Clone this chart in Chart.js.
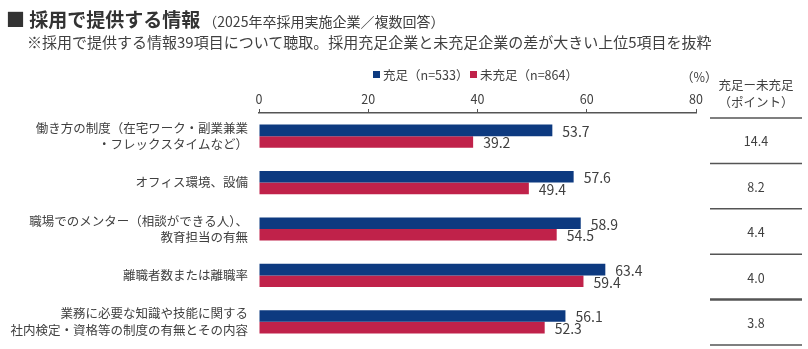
<!DOCTYPE html>
<html lang="ja">
<head>
<meta charset="utf-8">
<script src="https://cdn.jsdelivr.net/npm/chart.js@4.4.1/dist/chart.umd.min.js"></script>
<style>
  body { margin: 0; background: #fff; font-family: "Noto Sans CJK JP", "Noto Sans", sans-serif; color: #404040; }
  #wrap { position: relative; width: 808px; height: 349px; overflow: hidden; }
  #chart { position: absolute; left: 0; top: 0; }
  .abs { position: absolute; white-space: nowrap; line-height: 1; }
  .title { left: 6px; top: 9px; font-size: 19px; font-weight: bold; color: #333; }
  .title small { font-size: 14px; font-weight: normal; color: #404040; margin-left: 3px; }
  .sub { left: 27px; top: 34px; font-size: 15px; }
  .legend { top: 69px; font-size: 12.5px; }
  .legend i { display: inline-block; width: 7px; height: 7px; margin-right: 3px; vertical-align: 2px; }
  .unit { left: 681px; top: 71px; font-size: 12.5px; }
  .head { left: 710px; width: 92px; text-align: center; font-size: 12.5px; }
</style>
</head>
<body>
<div id="wrap">
  <canvas id="chart" width="808" height="349"></canvas>
  <div class="abs title">■ 採用で提供する情報<small>（2025年卒採用実施企業／複数回答）</small></div>
  <div class="abs sub">※採用で提供する情報39項目について聴取。採用充足企業と未充足企業の差が大きい上位5項目を抜粋</div>
  <div class="abs legend" style="left:373px"><i style="background:#0d3a80"></i>充足（n=533）</div>
  <div class="abs legend" style="left:470px"><i style="background:#c0224a"></i>未充足（n=864）</div>
  <div class="abs unit">（%）</div>
  <div class="abs head" style="top:79px">充足ー未充足</div>
  <div class="abs head" style="top:96px">（ポイント）</div>
</div>
<script>
const categories = [
    ['働き方の制度（在宅ワーク・副業兼業', '・フレックスタイムなど）'],
    'オフィス環境、設備',
    ['職場でのメンター（相談ができる人）、', '教育担当の有無'],
    '離職者数または離職率',
    ['業務に必要な知識や技能に関する', '社内検定・資格等の制度の有無とその内容']
];
const filled = [53.7, 57.6, 58.9, 63.4, 56.1];
const unfilled = [39.2, 49.4, 54.5, 59.4, 52.3];
const diffs = ['14.4', '8.2', '4.4', '4.0', '3.8'];
const xTicks = [0, 20, 40, 60, 80];

const textColor = '#404040';
const fontFamily = '"Noto Sans CJK JP", "Noto Sans", sans-serif';

// 棒の右に数値を描く
const valueLabels = {
    id: 'valueLabels',
    afterDatasetsDraw(chart) {
        const ctx = chart.ctx;
        ctx.save();
        ctx.font = '14px ' + fontFamily;
        ctx.fillStyle = textColor;
        ctx.textAlign = 'left';
        ctx.textBaseline = 'middle';
        chart.data.datasets.forEach((ds, di) => {
            chart.getDatasetMeta(di).data.forEach((bar, i) => {
                ctx.fillText(ds.data[i].toFixed(1), bar.x + 10, bar.y + 1);
            });
        });
        ctx.restore();
    }
};

// 右側の差の表
const diffTable = {
    id: 'diffTable',
    afterDraw(chart) {
        const ctx = chart.ctx;
        const area = chart.chartArea;
        const top = area.top + 5;
        const step = (area.bottom - top) / diffs.length;
        const left = 710, right = 802;
        ctx.save();
        ctx.strokeStyle = '#555';
        for (let i = 0; i <= diffs.length; i++) {
            const y = top + step * i;
            ctx.lineWidth = i === 4 ? 2.5 : 1.5;
            ctx.beginPath();
            ctx.moveTo(left, y);
            ctx.lineTo(right, y);
            ctx.stroke();
        }
        ctx.font = '12.5px ' + fontFamily;
        ctx.fillStyle = textColor;
        ctx.textAlign = 'center';
        ctx.textBaseline = 'middle';
        diffs.forEach((d, i) => {
            ctx.fillText(d, (left + right) / 2, top + step * (i + 0.5) + 1);
        });
        ctx.restore();
    }
};

new Chart(document.getElementById('chart'), {
    type: 'bar',
    data: {
        labels: categories,
        datasets: [
            { label: '充足（n=533）', data: filled, backgroundColor: '#0d3a80' },
            { label: '未充足（n=864）', data: unfilled, backgroundColor: '#c0224a' }
        ]
    },
    options: {
        indexAxis: 'y',
        responsive: false,
        animation: false,
        categoryPercentage: 0.5,
        barPercentage: 1.0,
        layout: { padding: { left: 0, right: 112, top: 0, bottom: 4 } },
        scales: {
            x: {
                position: 'top',
                min: 0,
                max: 80,
                afterBuildTicks: scale => { scale.ticks = xTicks.map(v => ({ value: v })); },
                afterFit: scale => {
                    scale.height = 113;
                    scale.paddingLeft = 0;
                    scale.paddingRight = 0;
                },
                ticks: {
                    color: textColor,
                    font: { size: 12.5, family: fontFamily },
                    padding: 2
                },
                grid: { drawOnChartArea: false, drawTicks: true, tickLength: 4, color: '#555' },
                border: { display: true, color: '#555', width: 1.5 }
            },
            y: {
                afterFit: scale => {
                    scale.width = 259;
                    scale.paddingTop = 0;
                    scale.paddingBottom = 0;
                },
                ticks: {
                    color: textColor,
                    font: { size: 12.5, family: fontFamily, lineHeight: 1.3 },
                    padding: 11
                },
                grid: { display: false, drawTicks: false },
                border: { display: false }
            }
        },
        plugins: {
            legend: { display: false },
            tooltip: { enabled: false }
        }
    },
    plugins: [valueLabels, diffTable]
});
</script>
</body>
</html>
